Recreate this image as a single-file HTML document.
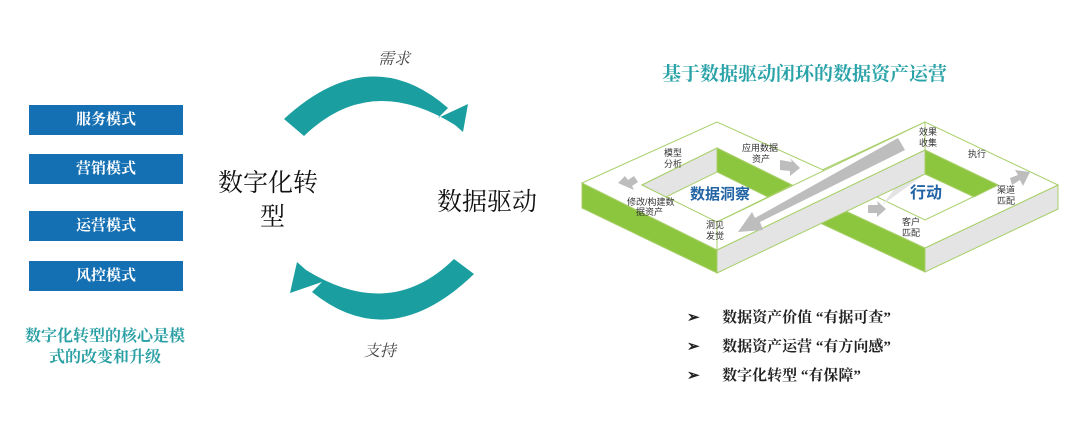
<!DOCTYPE html>
<html><head><meta charset="utf-8"><style>
html,body{margin:0;padding:0;background:#fff;}
body{width:1080px;height:445px;position:relative;overflow:hidden;font-family:"Liberation Serif","Noto Serif CJK SC",serif;}
.box{position:absolute;left:29px;width:154px;height:30px;background:#1470b3;color:#fff;font-weight:bold;font-size:15px;line-height:30px;text-align:center;}
.abs{position:absolute;white-space:nowrap;}
</style></head><body>
<div class="box" style="top:105px">服务模式</div>
<div class="box" style="top:154px">营销模式</div>
<div class="box" style="top:211px">运营模式</div>
<div class="box" style="top:261px">风控模式</div>
<div class="abs" style="left:14px;top:326px;width:182px;text-align:center;color:#2aa0a4;font-weight:bold;font-size:16px;line-height:21px;white-space:normal;">数字化转型的核心是模<br>式的改变和升级</div>

<svg width="1080" height="445" style="position:absolute;left:0;top:0">
<path d="M284,119 Q370,40 448,108 L438,118 L468,104 L463,132 L455,125 Q370,72 304,136 Z" fill="#1a9e9f"/>
<path d="M474,274 Q390,355 312,292 L322,282 L290,293 L297,262 L306,270 Q390,322 454,259 Z" fill="#1a9e9f"/>
<text x="378" y="64" font-size="16" font-style="italic" fill="#444" font-family="Liberation Serif,Noto Serif CJK SC,serif">需求</text>
<text x="364" y="356" font-size="16" font-style="italic" fill="#444" font-family="Liberation Serif,Noto Serif CJK SC,serif">支持</text>
<text x="218" y="191" font-size="25" fill="#111" font-family="Liberation Serif,Noto Serif CJK SC,serif">数字化转</text>
<text x="260" y="225" font-size="25" fill="#111" font-family="Liberation Serif,Noto Serif CJK SC,serif">型</text>
<text x="437" y="210" font-size="25" fill="#111" font-family="Liberation Serif,Noto Serif CJK SC,serif">数据驱动</text>

<text x="662" y="80" font-size="19" font-weight="bold" fill="#2aa3a8" font-family="Liberation Serif,Noto Serif CJK SC,serif">基于数据驱动闭环的数据资产运营</text>

<g stroke="#a8cf6a" stroke-width="1">
<polygon points="925,248 1058,185 1058,209 925,272" fill="#e4e4e4"/>
<polygon points="790,185 925,248 925,272 790,209" fill="#8cc63f"/>
<polygon points="790,185 925,122 1058,185 925,248" fill="#fff"/>
<polygon points="852,185 925,150 998,185 925,220" fill="#fff"/>
<polygon points="882,205 925,150 925,174" fill="#e4e4e4" stroke="none"/>
<polygon points="925,150 998,185 974,197 925,174" fill="#8cc63f"/>
<polygon points="717,250 852,183 852,207 717,273" fill="#e4e4e4"/>
<polygon points="582,183 717,250 717,273 582,208" fill="#8cc63f"/>
<polygon points="582,183 717,122 852,183 717,250" fill="#fff"/>
<polygon points="642,185 717,148 792,185 717,222" fill="#fff"/>
<polygon points="642,185 717,148 717,172 666,197" fill="#e4e4e4"/>
<polygon points="717,148 792,185 768,197 717,172" fill="#8cc63f"/>
<polygon points="717,250 925,150 925,174 717,273" fill="#e4e4e4"/>
<polygon points="717,222 925,122 925,150 717,250" fill="#fff"/>
</g>
<polygon points="898,138 905,150 760,222 763,230 738,232 752,212 755,218" fill="#bdbdbd"/>
<polygon points="618,183 625,176 628,180 634,176 638,182 632,186 634,190" fill="#bdbdbd"/>
<polygon points="780,160 792,162 790,158 800,168 790,176 790,171 780,170" fill="#bdbdbd"/>
<polygon points="868,205 878,205 877,201 886,209 877,217 877,213 868,213" fill="#bdbdbd"/>
<polygon points="1010,178 1018,175 1015,170 1030,172 1023,186 1020,180 1012,185" fill="#bdbdbd"/>
<g font-family="Liberation Sans,Noto Sans CJK SC,sans-serif" font-size="9" fill="#333">
<text x="664" y="156">模型</text><text x="664" y="167">分析</text>
<text x="742" y="151">应用数据</text><text x="752" y="162">资产</text>
<text x="627" y="205">修改/构建数</text><text x="636" y="215">据资产</text>
<text x="706" y="228">洞见</text><text x="706" y="239">发觉</text>
<text x="919" y="135">效果</text><text x="919" y="146">收集</text>
<text x="968" y="157">执行</text>
<text x="997" y="193">渠道</text><text x="997" y="204">匹配</text>
<text x="902" y="225">客户</text><text x="902" y="236">匹配</text>
</g>
<text x="690" y="199" font-size="15" font-weight="bold" fill="#2364a5" font-family="Liberation Sans,Noto Sans CJK SC,sans-serif">数据洞察</text>
<text x="910" y="198" font-size="16" font-weight="bold" fill="#2364a5" font-family="Liberation Sans,Noto Sans CJK SC,sans-serif">行动</text>
</svg>

<div class="abs" style="left:687px;top:304px;font-size:15px;font-weight:bold;color:#222;line-height:29px;">
<div>➢&nbsp;&nbsp;&nbsp;&nbsp;&nbsp;&nbsp;数据资产价值 “有据可查”</div>
<div>➢&nbsp;&nbsp;&nbsp;&nbsp;&nbsp;&nbsp;数据资产运营 “有方向感”</div>
<div>➢&nbsp;&nbsp;&nbsp;&nbsp;&nbsp;&nbsp;数字化转型 “有保障”</div>
</div>
</body></html>
